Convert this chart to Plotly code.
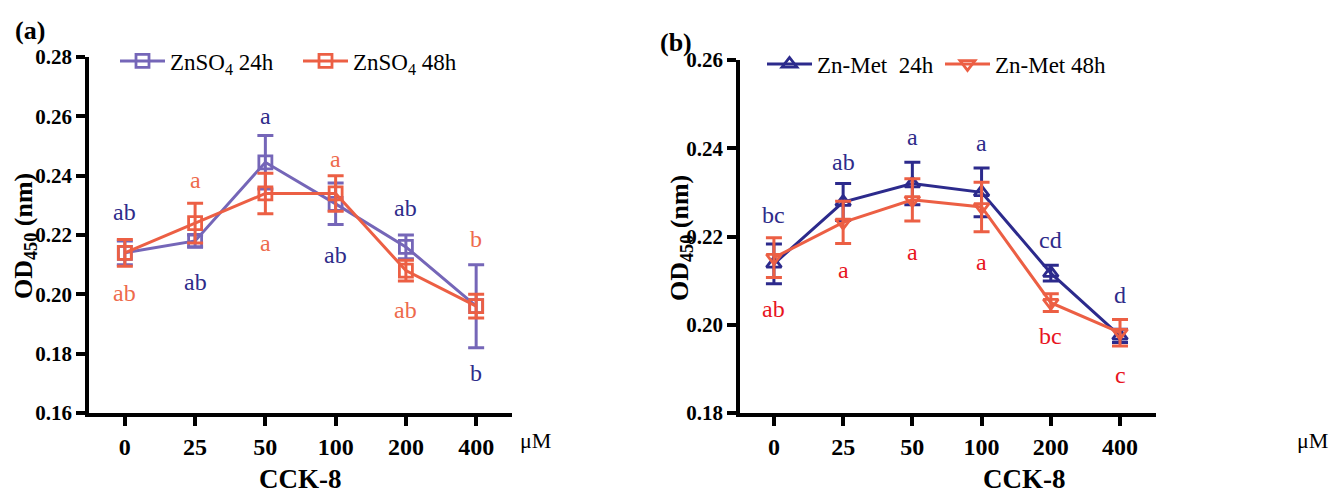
import plotly.graph_objects as go

# ---------------- data ----------------
conc = ["0", "25", "50", "100", "200", "400"]

znso4_24h = [0.214, 0.218, 0.2445, 0.2305, 0.216, 0.196]
znso4_24h_err = [0.004, 0.002, 0.009, 0.007, 0.004, 0.014]
znso4_48h = [0.214, 0.224, 0.234, 0.234, 0.208, 0.196]
znso4_48h_err = [0.0045, 0.0067, 0.0068, 0.006, 0.0035, 0.004]

znmet_24h = [0.2138, 0.2278, 0.2320, 0.2300, 0.2117, 0.1975]
znmet_24h_err = [0.0045, 0.0042, 0.0048, 0.0055, 0.0018, 0.0015]
znmet_48h = [0.2152, 0.2232, 0.2283, 0.2267, 0.2050, 0.1982]
znmet_48h_err = [0.0045, 0.0048, 0.0048, 0.0056, 0.002, 0.003]

# significance letters and their y positions
a24_letters = ["ab", "ab", "a", "ab", "ab", "b"]
a24_letter_y = [0.2278, 0.2042, 0.2601, 0.2133, 0.2291, 0.1735]
a48_letters = ["ab", "a", "a", "a", "ab", "b"]
a48_letter_y = [0.2005, 0.2385, 0.2173, 0.2456, 0.1947, 0.2187]

b24_letters = ["bc", "ab", "a", "a", "cd", "d"]
b24_letter_y = [0.2249, 0.2369, 0.2426, 0.2412, 0.2192, 0.2067]
b48_letters = ["ab", "a", "a", "a", "bc", "c"]
b48_letter_y = [0.2036, 0.2124, 0.2165, 0.2142, 0.1975, 0.1886]

a_yticks = [0.16, 0.18, 0.20, 0.22, 0.24, 0.26, 0.28]
b_yticks = [0.18, 0.20, 0.22, 0.24, 0.26]

# ---------------- styles ----------------
PURPLE = "#7566B8"
CORAL = "#EC5F44"
NAVY = "#2C2A8C"
NAVY_TXT = "#2E2B8A"
CORAL_TXT = "#EE6A4C"
RED_TXT = "#E8141E"
SERIF = "Liberation Serif"
W, H = 1330, 494


def px_x(p):
    return p / W


def px_y(p):
    return 1 - p / H


fig = go.Figure()


def add_series(x, y, err, color, symbol, name, xa, ya, legend):
    fig.add_trace(go.Scatter(
        x=x, y=y, name=name, mode="lines+markers",
        xaxis=xa, yaxis=ya, legend=legend,
        line=dict(color=color, width=3),
        marker=dict(symbol=symbol, size=13, color=color,
                    line=dict(color=color, width=2.8)),
        error_y=dict(type="data", array=err, visible=True, color=color,
                     thickness=3, width=8),
    ))


add_series(conc, znso4_24h, znso4_24h_err, PURPLE, "square-open",
           "ZnSO<sub>4</sub> 24h", "x", "y", "legend")
add_series(conc, znso4_48h, znso4_48h_err, CORAL, "square-open",
           "ZnSO<sub>4</sub> 48h", "x", "y", "legend")
add_series(conc, znmet_24h, znmet_24h_err, NAVY, "triangle-up-open",
           "Zn-Met  24h", "x2", "y2", "legend2")
add_series(conc, znmet_48h, znmet_48h_err, CORAL, "triangle-down-open",
           "Zn-Met 48h", "x2", "y2", "legend2")

annotations = []


def add_letters(letters, ys, color, xref, yref):
    for i, (t, yv) in enumerate(zip(letters, ys)):
        annotations.append(dict(
            x=i, y=yv, xref=xref, yref=yref, text=t, showarrow=False,
            font=dict(family=SERIF, size=24, color=color),
            xanchor="center", yanchor="middle"))


add_letters(a24_letters, a24_letter_y, NAVY_TXT, "x", "y")
add_letters(a48_letters, a48_letter_y, CORAL_TXT, "x", "y")
add_letters(b24_letters, b24_letter_y, NAVY_TXT, "x2", "y2")
add_letters(b48_letters, b48_letter_y, RED_TXT, "x2", "y2")

# panel labels, units, titles
for txt, xp, yp in [("(a)", 30, 30), ("(b)", 676, 42)]:
    annotations.append(dict(x=px_x(xp), y=px_y(yp), xref="paper", yref="paper",
                            text="<b>" + txt + "</b>", showarrow=False,
                            font=dict(family=SERIF, size=26, color="black"),
                            xanchor="center", yanchor="middle"))
for xp in (535, 1312):
    annotations.append(dict(x=px_x(xp), y=px_y(440), xref="paper", yref="paper",
                            text="μM", showarrow=False,
                            font=dict(family=SERIF, size=22, color="black"),
                            xanchor="center", yanchor="middle"))
for xp in (300, 1024):
    annotations.append(dict(x=px_x(xp), y=px_y(479), xref="paper", yref="paper",
                            text="<b>CCK-8</b>", showarrow=False,
                            font=dict(family=SERIF, size=27, color="black"),
                            xanchor="center", yanchor="middle"))
for xp, yp in [(25, 236), (681, 238)]:
    annotations.append(dict(x=px_x(xp), y=px_y(yp), xref="paper", yref="paper",
                            text="<b>OD<sub>450</sub> (nm)</b>", showarrow=False,
                            textangle=-90,
                            font=dict(family=SERIF, size=26, color="black"),
                            xanchor="center", yanchor="middle"))

axis_common = dict(
    showline=True, linecolor="black", linewidth=3.5, mirror=False,
    ticks="outside", ticklen=9, tickwidth=3.5, tickcolor="black",
    showgrid=False, zeroline=False, automargin=False,
)
xfont = dict(family=SERIF, size=24, color="black", weight="bold")
yfont = dict(family=SERIF, size=21, color="black", weight="bold")

fig.update_layout(
    width=W, height=H,
    paper_bgcolor="white", plot_bgcolor="white",
    margin=dict(l=0, r=0, t=0, b=0, autoexpand=False),
    showlegend=True,
    xaxis=dict(axis_common, type="category", range=[-0.51, 5.51],
               tickfont=xfont,
               domain=[px_x(89), px_x(512)], anchor="y"),
    yaxis=dict(axis_common, range=[0.16, 0.28], tickvals=a_yticks,
               tickformat=".2f", tickfont=yfont,
               domain=[px_y(413), px_y(57)], anchor="x"),
    xaxis2=dict(axis_common, type="category", range=[-0.49, 5.52],
                tickfont=xfont,
                domain=[px_x(740), px_x(1156)], anchor="y2"),
    yaxis2=dict(axis_common, range=[0.18, 0.26], tickvals=b_yticks,
                tickformat=".2f", tickfont=yfont,
                domain=[px_y(413), px_y(60)], anchor="x2"),
    legend=dict(orientation="h", x=px_x(115), y=px_y(61), xanchor="left",
                yanchor="middle", bgcolor="rgba(0,0,0,0)",
                xref="container", yref="container",
                font=dict(family=SERIF, size=23, color="black"),
                entrywidth=123, itemwidth=45),
    legend2=dict(orientation="h", x=px_x(762), y=px_y(64), xanchor="left",
                 yanchor="middle", bgcolor="rgba(0,0,0,0)",
                 xref="container", yref="container",
                 font=dict(family=SERIF, size=23, color="black"),
                 entrywidth=118, itemwidth=45),
    annotations=annotations,
)

fig.write_html("out.html", config={"displayModeBar": False},
               post_script="document.body.style.margin='0';")
